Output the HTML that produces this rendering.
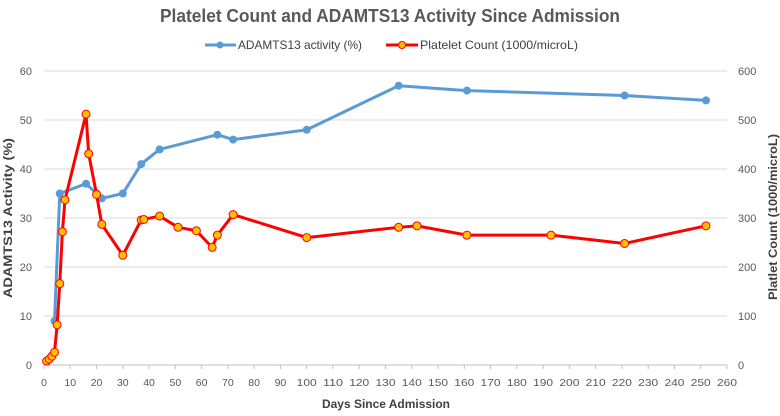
<!DOCTYPE html>
<html><head><meta charset="utf-8"><style>
body{margin:0;background:#fff;}
svg text{font-family:"Liberation Sans",sans-serif;}
</style></head><body>
<svg id="c" width="780" height="411" xmlns="http://www.w3.org/2000/svg">
<text x="160" y="22" textLength="460" lengthAdjust="spacingAndGlyphs" font-size="18" font-weight="bold" fill="#595959">Platelet Count and ADAMTS13 Activity Since Admission</text>
<g>
<g><line x1="205" y1="45" x2="236" y2="45" stroke="#5b9bd5" stroke-width="3"/><circle cx="220" cy="45" r="3.5" fill="#5b9bd5"/><text x="238" y="49" textLength="124" lengthAdjust="spacingAndGlyphs" font-size="12" fill="#404040">ADAMTS13 activity (%)</text></g>
<g><line x1="386" y1="45" x2="418" y2="45" stroke="#ff0000" stroke-width="3"/><circle cx="402" cy="45" r="3.5" fill="#ffc000" stroke="#ff0000"/><text x="420" y="49" textLength="158" lengthAdjust="spacingAndGlyphs" font-size="12" fill="#404040">Platelet Count (1000/microL)</text></g>
</g>
<g id="grid"></g><g id="axes"></g><g id="series"></g>
<text transform="translate(12,218) rotate(-90)" text-anchor="middle" textLength="160" lengthAdjust="spacingAndGlyphs" font-size="12" font-weight="bold" fill="#404040">ADAMTS13 Activity (%)</text>
<text transform="translate(777,217) rotate(-90)" text-anchor="middle" textLength="166" lengthAdjust="spacingAndGlyphs" font-size="12" font-weight="bold" fill="#404040">Platlet Count (1000/microL)</text>
<text x="386" y="408" text-anchor="middle" textLength="128" lengthAdjust="spacingAndGlyphs" font-size="12" font-weight="bold" fill="#404040">Days Since Admission</text>
</svg>
<script>
const adDays=[4,6,16,20,22,30,37,44,66,72,100,135,161,221,252];
const adVals=[9,35,37,35,34,35,41,44,47,46,48,57,56,55,54];
const plDays=[1,2,3,4,5,6,7,8,16,17,20,22,30,37,38,44,51,58,64,66,72,100,135,142,161,193,221,252];
const plVals=[8,12,18,26,82,166,272,337,512,431,348,287,224,296,297,304,281,274,240,265,307,260,281,284,265,265,248,284];
const xTicks=[0,10,20,30,40,50,60,70,80,90,100,110,120,130,140,150,160,170,180,190,200,210,220,230,240,250,260];
const yLeftTicks=[0,10,20,30,40,50,60];
const yRightTicks=[0,100,200,300,400,500,600];
const NS="http://www.w3.org/2000/svg";
const X0=44,X1=727,Y0=365,Y1=71;
const xs=d=>X0+d/260*(X1-X0);
const yl=v=>Y0-v/60*(Y0-Y1);
const yr=v=>Y0-v/600*(Y0-Y1);
function mk(p,t,a){const e=document.createElementNS(NS,t);for(const k in a)e.setAttribute(k,a[k]);p.appendChild(e);return e;}
const grid=document.getElementById('grid'),axes=document.getElementById('axes'),ser=document.getElementById('series');
yLeftTicks.forEach((v,i)=>{
 const g=mk(grid,'line',{x1:X0,x2:X1,y1:yl(v),y2:yl(v),stroke:v===0?'#bfbfbf':'#d9d9d9','stroke-width':1});
 
 
 const t=mk(axes,'text',{x:32,y:yl(v)+4,'text-anchor':'end','font-size':11,fill:'#595959'});t.textContent=v;
 
 
 const r=yRightTicks[i];
 const t2=mk(axes,'text',{x:738,y:yr(r)+4,'font-size':11,fill:'#595959'});t2.textContent=r;
 
 
});
xTicks.forEach(d=>{
 const tk=mk(axes,'line',{x1:xs(d),x2:xs(d),y1:Y0,y2:Y0+4,stroke:'#bfbfbf'});
 
 
 const t=mk(axes,'text',{x:xs(d),y:Y0+21,'text-anchor':'middle','font-size':10.5,fill:'#595959'});t.textContent=d;
 if(d>=100){t.setAttribute('textLength',20);t.setAttribute('lengthAdjust','spacingAndGlyphs');}
 
 
});
const pa=mk(ser,'polyline',{points:adDays.map((d,i)=>xs(d)+','+yl(adVals[i])).join(' '),fill:'none',stroke:'#5b9bd5','stroke-width':3,'stroke-linejoin':'round'});


adDays.forEach((d,i)=>{const c=mk(ser,'circle',{cx:xs(d),cy:yl(adVals[i]),r:4,fill:'#5b9bd5'});
 
 });
const pp=mk(ser,'polyline',{points:plDays.map((d,i)=>xs(d)+','+yr(plVals[i])).join(' '),fill:'none',stroke:'#ff0000','stroke-width':3,'stroke-linejoin':'round'});


plDays.forEach((d,i)=>{const c=mk(ser,'circle',{cx:xs(d),cy:yr(plVals[i]),r:4,fill:'#ffc000',stroke:'#ff0000','stroke-width':1});
 
 });
</script>
</body></html>
